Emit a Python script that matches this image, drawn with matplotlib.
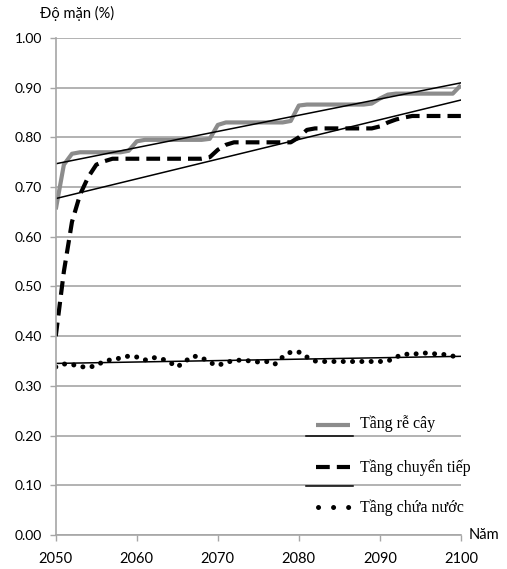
import numpy as np
import matplotlib
matplotlib.use("Agg")
import matplotlib.pyplot as plt

years = list(range(2050, 2101))

# Tầng rễ cây (root layer)
root = [0.655, 0.745, 0.767, 0.770, 0.770, 0.770, 0.770, 0.770, 0.770, 0.773,
        0.792, 0.795, 0.795, 0.795, 0.795, 0.795, 0.795, 0.795, 0.795, 0.797,
        0.825, 0.830, 0.830, 0.830, 0.830, 0.830, 0.830, 0.830, 0.830, 0.833,
        0.864, 0.866, 0.866, 0.866, 0.866, 0.866, 0.866, 0.866, 0.866, 0.868,
        0.878, 0.886, 0.888, 0.888, 0.888, 0.888, 0.888, 0.888, 0.888, 0.888,
        0.905]

# Tầng chuyển tiếp (transition layer)
transition = [0.400, 0.530, 0.630, 0.685, 0.720, 0.745, 0.752, 0.757, 0.757, 0.757,
              0.757, 0.757, 0.757, 0.757, 0.757, 0.757, 0.757, 0.757, 0.757, 0.760,
              0.775, 0.785, 0.790, 0.790, 0.790, 0.790, 0.790, 0.790, 0.790, 0.790,
              0.800, 0.815, 0.818, 0.818, 0.818, 0.818, 0.818, 0.818, 0.818, 0.818,
              0.822, 0.830, 0.836, 0.840, 0.843, 0.843, 0.843, 0.843, 0.843, 0.843,
              0.843]

# Tầng chứa nước (aquifer)
aquifer = [0.338, 0.344, 0.343, 0.339, 0.337, 0.341, 0.350, 0.353, 0.356, 0.360,
           0.358, 0.352, 0.357, 0.355, 0.348, 0.338, 0.350, 0.360, 0.357, 0.347,
           0.341, 0.347, 0.351, 0.352, 0.350, 0.348, 0.349, 0.343, 0.358, 0.368,
           0.368, 0.358, 0.350, 0.349, 0.349, 0.349, 0.349, 0.349, 0.349, 0.349,
           0.349, 0.350, 0.358, 0.364, 0.363, 0.366, 0.366, 0.364, 0.363, 0.360,
           0.355]

labels = ["Tầng rễ cây", "Tầng chuyển tiếp", "Tầng chứa nước"]
yticks = [0.0, 0.1, 0.2, 0.3, 0.4, 0.5, 0.6, 0.7, 0.8, 0.9, 1.0]
xticks = [2050, 2060, 2070, 2080, 2090, 2100]

sans = ["Lato", "Noto Sans", "DejaVu Sans"]
serif = ["Liberation Serif", "DejaVu Serif"]

fig = plt.figure(figsize=(5.07, 5.69), dpi=100)
ax = fig.add_axes([0.110, 0.0598, 0.799, 0.8735])

x = np.array(years)
root_style = dict(color="#8c8c8c", lw=3.0, solid_capstyle="butt", solid_joinstyle="round")
dash_style = dict(color="black", lw=3.0, linestyle=(0, (3.3, 1.7)), dash_capstyle="butt")
dot_style = dict(color="black", lw=3.6, linestyle=(0, (0.01, 1.85)), dash_capstyle="round")

ax.plot(x, root, **root_style)
ax.plot(x, transition, **dash_style)
ax.plot(x, aquifer, **dot_style)

# linear trend lines
for series in (root, transition, aquifer):
    k, b = np.polyfit(x, series, 1)
    ax.plot(x, k * x + b, color="black", lw=1.1)

ax.set_xlim(2050, 2100)
ax.set_ylim(0, 1.0)
ax.set_yticks(yticks)
ax.set_yticklabels([f"{v:.2f}" for v in yticks], family=sans, fontsize=10)
ax.set_xticks(xticks)
ax.set_xticklabels([str(v) for v in xticks], family=sans, fontsize=10.5)
ax.yaxis.grid(True, color="#a6a6a6", lw=1.2)
ax.set_axisbelow(True)
for s in ("top", "right"):
    ax.spines[s].set_visible(False)
for s in ("left", "bottom"):
    ax.spines[s].set_color("#a6a6a6")
    ax.spines[s].set_linewidth(1.2)
ax.tick_params(axis="both", colors="#a6a6a6", length=4, width=1.0, labelcolor="black")
ax.tick_params(axis="x", pad=8)
ax.tick_params(axis="y", pad=6)

ax.text(-0.04, 1.035, "Độ mặn (%)", transform=ax.transAxes, family=sans,
        fontsize=10.5, ha="left", va="bottom")
ax.text(1.02, 0.0, "Năm", transform=ax.transAxes, family=sans,
        fontsize=10.5, ha="left", va="center")

# legend drawn by hand (Excel style with unlabeled trend entries)
hx0, hx1, tx = 0.642, 0.726, 0.751
ax.plot([hx0, hx1], [0.221, 0.221], transform=ax.transAxes, clip_on=False, **root_style)
ax.plot([0.617, 0.733], [0.199, 0.199], transform=ax.transAxes, clip_on=False, color="black", lw=1.1)
ax.plot([hx0, hx1], [0.137, 0.137], transform=ax.transAxes, clip_on=False, **dash_style)
ax.plot([0.617, 0.733], [0.0986, 0.0986], transform=ax.transAxes, clip_on=False, color="black", lw=1.1)
leg_dots = dict(dot_style, linestyle=(0, (0.01, 3.0)))
ax.plot([0.648, 0.730], [0.056, 0.056], transform=ax.transAxes, clip_on=False, **leg_dots)
for yy, lab in zip([0.224, 0.135, 0.054], labels):
    ax.text(tx, yy, lab, transform=ax.transAxes, family=serif, fontsize=11.5,
            ha="left", va="center")

fig.savefig("out.png", dpi=100)
